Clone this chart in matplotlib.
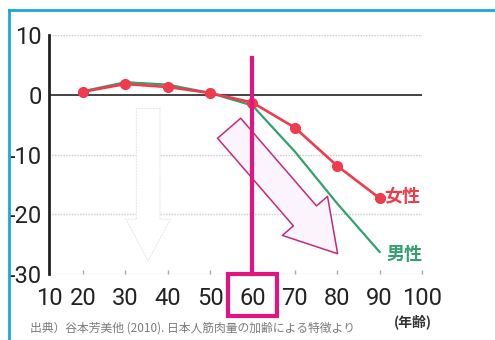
import matplotlib
matplotlib.use("Agg")
import matplotlib.pyplot as plt
from matplotlib.patches import Rectangle
from matplotlib.lines import Line2D

plt.rcParams['font.family'] = ['Noto Sans CJK JP', 'DejaVu Sans']

# 年齢別の筋肉量の変化（20代を基準）
ages = [20, 30, 40, 50, 60, 70, 80, 90]
female = [0.5, 1.8, 1.3, 0.3, -1.3, -5.5, -11.9, -17.3]
male = [0.6, 2.1, 1.7, 0.3, -1.8, -9.5, -18.2, -26.3]

xticks = [12, 20, 30, 40, 50, 60, 70, 80, 90, 100]
xtick_labels = ["10", "20", "30", "40", "50", "60", "70", "80", "90", "100"]
yticks = [10, 0, -10, -20, -30]
ytick_labels = ["10", "0", "-10", "-20", "-30"]

red = "#ef3b4b"
green = "#33a06d"
magenta = "#e0157f"
num_font = ['Roboto', 'DejaVu Sans']

fig = plt.figure(figsize=(4.95, 3.4), dpi=100)
ax = fig.add_axes([0.099, 0.194, 0.7535, 0.703])
ax.set_xlim(12, 100)
ax.set_ylim(-30, 10)

for s in ['top', 'right', 'bottom']:
    ax.spines[s].set_visible(False)
ax.spines['left'].set_linewidth(2.0)
ax.spines['left'].set_color("#222222")

# 点線の目盛線と0の基準線
for y in [10, -10, -20, -30]:
    ax.axhline(y, color="#c8c8c8", lw=1.0, ls=(0, (1, 1)), zorder=1)
ax.axhline(0, color="#222222", lw=1.2, zorder=2)

ax.set_xticks(xticks)
ax.set_xticklabels(xtick_labels, fontsize=17, color="#222222", family=num_font)
ax.set_yticks(yticks)
ax.set_yticklabels(ytick_labels, fontsize=17, color="#222222", family=num_font)
ax.tick_params(axis='y', length=0, pad=5)
ax.tick_params(axis='x', direction='in', length=3, width=1, color="#aaaaaa", pad=9)
ax.xaxis.get_major_ticks()[0].tick1line.set_visible(False)

# 背景の薄い下向き矢印
ax.annotate("", xy=(35.4, -27.8), xytext=(35.4, -2.3),
            arrowprops=dict(arrowstyle="simple,tail_width=1.7,head_width=3.2,head_length=3.0",
                            fc="white", ec="#e6e6e6", lw=0.8, ls=':',
                            shrinkA=0, shrinkB=0, mutation_scale=10),
            zorder=3)

# 低下を示す大きな矢印
ax.annotate("", xy=(80.1, -26.6), xytext=(54.5, -5.6),
            arrowprops=dict(arrowstyle="simple,tail_width=2.2,head_width=4.3,head_length=3.6",
                            fc="#fcf4fc", ec="#c8287a", lw=1.1,
                            shrinkA=0, shrinkB=0, mutation_scale=10),
            zorder=3)

ax.plot(ages, male, color=green, lw=1.6, zorder=4)
ax.plot(ages, female, color=red, lw=1.9, marker='o', ms=7, zorder=5)

# 60歳の強調線と枠
ax.plot([60, 60], [6.1, -30], color=magenta, lw=3, zorder=6, clip_on=False)
ax.add_patch(Rectangle((54.2, -37.0), 11.6, 7.0, fill=False, ec=magenta, lw=3,
                       clip_on=False, zorder=6))

ax.text(91.2, -17.0, "女性", color=red, fontsize=13, fontweight='bold', va='center', ha='left')
ax.text(91.6, -26.8, "男性", color=green, fontsize=13, fontweight='bold', va='center', ha='left')

fig.text(0.796, 0.054, "(年齢)", color="#333333", fontsize=10, fontweight='bold',
         va='center', ha='left')
fig.text(0.061, 0.036, "出典）谷本芳美他 (2010). 日本人筋肉量の加齢による特徴より",
         color="#7a7a7a", fontsize=8.5, va='center', ha='left')

# 外枠（上と左）
fig.add_artist(Line2D([0.018, 0.018], [0, 0.971], transform=fig.transFigure,
                      color="#17a8dc", lw=2))
fig.add_artist(Line2D([0.018, 1.0], [0.971, 0.971], transform=fig.transFigure,
                      color="#17a8dc", lw=2))

fig.savefig("out.png", dpi=100)
